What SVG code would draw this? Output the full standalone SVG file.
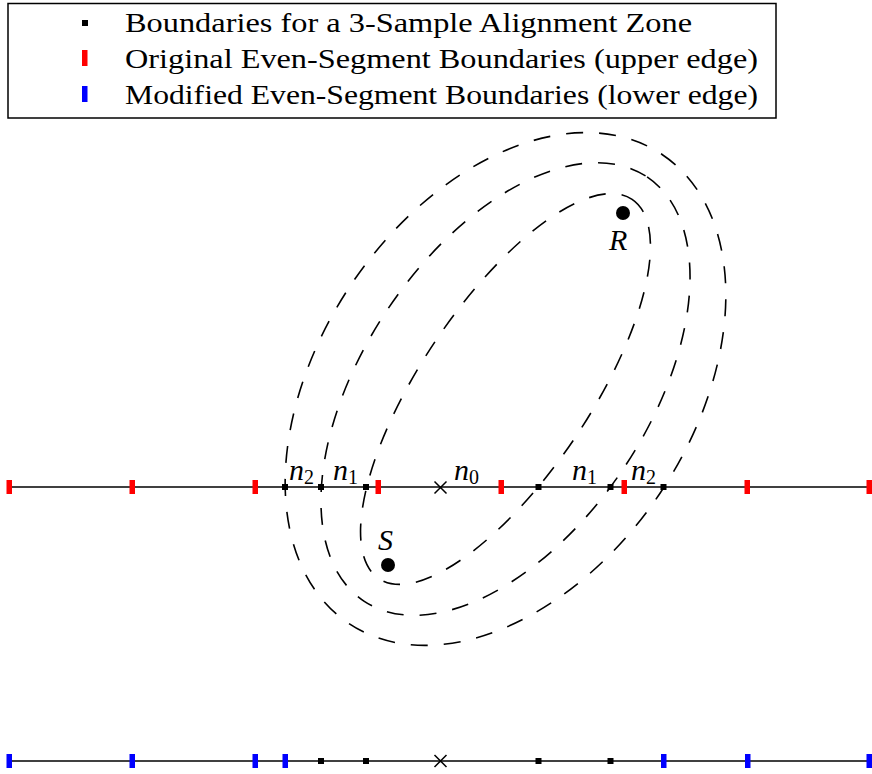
<svg xmlns="http://www.w3.org/2000/svg" width="872" height="774" viewBox="0 0 872 774">
<defs>
<style>
.leg{font-family:"Liberation Serif",serif;font-size:27px;fill:#000}
.m{font-family:"Liberation Serif",serif;font-style:italic;font-size:30px;fill:#000}
.sub{font-family:"Liberation Serif",serif;font-style:normal;font-size:20px}
.axis{stroke:#000;stroke-width:1.5;fill:none}
.ell{stroke:#000;stroke-width:1.6;fill:none;stroke-dasharray:17 16}
.red{fill:#ff0000}
.blue{fill:#0000ff}
.blk{fill:#000}
.cross{stroke:#000;stroke-width:1.5}
</style>
</defs>
<rect width="872" height="774" fill="#fff"/>
<g id="legend">
<rect x="8" y="3.5" width="768" height="114.5" fill="#fff" stroke="#000" stroke-width="1.5"/>
<rect class="blk" x="82" y="20" width="6" height="6"/>
<rect class="red" x="82" y="50" width="5.5" height="16"/>
<rect class="blue" x="82" y="86" width="5.5" height="16"/>
<text class="leg" x="125" y="32" textLength="567" lengthAdjust="spacingAndGlyphs">Boundaries for a 3-Sample Alignment Zone</text>
<text class="leg" x="125" y="68" textLength="633" lengthAdjust="spacingAndGlyphs">Original Even-Segment Boundaries (upper edge)</text>
<text class="leg" x="125" y="104" textLength="633" lengthAdjust="spacingAndGlyphs">Modified Even-Segment Boundaries (lower edge)</text>
</g>
<g id="connectors">
<ellipse class="ell" cx="505.5" cy="389" rx="228" ry="84.9" transform="rotate(-56.27 505.5 389)"/>
<ellipse class="ell" cx="505.5" cy="389" rx="255" ry="142.3" transform="rotate(-56.27 505.5 389)"/>
<ellipse class="ell" cx="505.5" cy="389" rx="282" ry="186.4" transform="rotate(-56.27 505.5 389)"/>
</g>
<g id="upper-axis">
<line class="axis" x1="9" y1="487" x2="869" y2="487"/>
<rect class="red" x="6.5" y="480" width="5.5" height="14"/>
<rect class="red" x="129.5" y="480" width="5.5" height="14"/>
<rect class="red" x="252.5" y="480" width="5.5" height="14"/>
<rect class="red" x="375.5" y="480" width="5.5" height="14"/>
<rect class="red" x="498.5" y="480" width="5.5" height="14"/>
<rect class="red" x="621.5" y="480" width="5.5" height="14"/>
<rect class="red" x="744.5" y="480" width="5.5" height="14"/>
<rect class="red" x="866.5" y="480" width="5.5" height="14"/>
<rect class="blk" x="282" y="484" width="6" height="6"/>
<rect class="blk" x="318" y="484" width="6" height="6"/>
<rect class="blk" x="363" y="484" width="6" height="6"/>
<rect class="blk" x="535.5" y="484" width="6" height="6"/>
<rect class="blk" x="607.5" y="484" width="6" height="6"/>
<rect class="blk" x="660.5" y="484" width="6" height="6"/>
<path class="cross" d="M434.5 481.5L446.5 493.5M446.5 481.5L434.5 493.5"/>
<text class="m" x="289" y="480">n<tspan class="sub" dy="4">2</tspan></text>
<text class="m" x="333" y="480">n<tspan class="sub" dy="4">1</tspan></text>
<text class="m" x="454" y="480">n<tspan class="sub" dy="4">0</tspan></text>
<text class="m" x="572" y="480">n<tspan class="sub" dy="4">1</tspan></text>
<text class="m" x="631" y="480">n<tspan class="sub" dy="4">2</tspan></text>
</g>
<g id="S">
<circle cx="388" cy="565" r="7" class="blk"/>
<text class="m" x="378" y="550">S</text>
</g>
<g id="R">
<circle cx="623" cy="213" r="7" class="blk"/>
<text class="m" x="609" y="250">R</text>
</g>
<g id="lower-axis">
<line class="axis" x1="9" y1="761" x2="869" y2="761"/>
<rect class="blue" x="6.5" y="754" width="5.5" height="14"/>
<rect class="blue" x="129.5" y="754" width="5.5" height="14"/>
<rect class="blue" x="252.5" y="754" width="5.5" height="14"/>
<rect class="blue" x="282.5" y="754" width="5.5" height="14"/>
<rect class="blue" x="661" y="754" width="5.5" height="14"/>
<rect class="blue" x="745" y="754" width="5.5" height="14"/>
<rect class="blue" x="866.5" y="754" width="5.5" height="14"/>
<rect class="blk" x="318" y="758" width="6" height="6"/>
<rect class="blk" x="363" y="758" width="6" height="6"/>
<rect class="blk" x="535.5" y="758" width="6" height="6"/>
<rect class="blk" x="607.5" y="758" width="6" height="6"/>
<path class="cross" d="M434.5 755L446.5 767M446.5 755L434.5 767"/>
</g>
</svg>
